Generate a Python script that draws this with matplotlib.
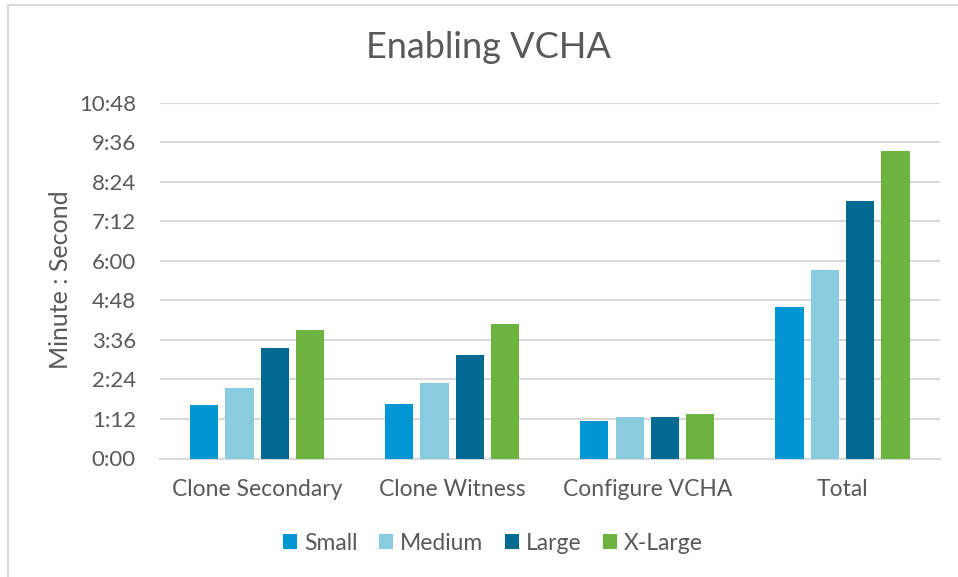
import matplotlib
matplotlib.use("Agg")
import matplotlib.pyplot as plt
from matplotlib.ticker import FuncFormatter, MultipleLocator
from matplotlib.patches import Rectangle
import numpy as np

categories = ["Clone Secondary", "Clone Witness", "Configure VCHA", "Total"]
series_names = ["Small", "Medium", "Large", "X-Large"]
# durations in seconds
small = [97, 100, 69, 276]
medium = [129, 138, 76, 344]
large = [202, 189, 76, 468]
xlarge = [233, 244, 81, 559]
values = [small, medium, large, xlarge]
colors = ["#0095D3", "#89CBDF", "#006A91", "#6DB33F"]

plt.rcParams['font.family'] = ['Lato', 'DejaVu Sans']
text_color = "#595959"

fig = plt.figure(figsize=(9.58, 5.77), dpi=100)
ax = fig.add_axes([159.5/958, (577-458.5)/577, (940-159.5)/958, (458.5-102.5)/577])

x = np.arange(len(categories))
pitch = 0.181
bw = 0.145
for i, (name, vals, c) in enumerate(zip(series_names, values, colors)):
    ax.bar(x + (i - 1.5) * pitch, vals, width=bw, color=c, label=name, zorder=3)

ax.set_xlim(-0.5, len(categories) - 0.5)
ax.set_ylim(0, 648)
ax.yaxis.set_major_locator(MultipleLocator(72))
ax.yaxis.set_major_formatter(FuncFormatter(lambda v, p: f"{int(v)//60}:{int(v)%60:02d}"))
ax.grid(axis='y', color="#D9D9D9", linewidth=1.5, zorder=0)
ax.set_axisbelow(True)
for s in ['top', 'right', 'left']:
    ax.spines[s].set_visible(False)
ax.spines['bottom'].set_color("#D9D9D9")
ax.spines['bottom'].set_linewidth(1.5)
ax.tick_params(axis='both', length=0, colors=text_color)
ax.tick_params(axis='y', pad=17, labelsize=16)
ax.tick_params(axis='x', pad=15, labelsize=16.5)
ax.set_xticks(x)
ax.set_xticklabels(categories)

fig.text(60/958, 1 - 280/577, "Minute : Second", rotation=90, ha='center', va='center',
         fontsize=18, color=text_color)

fig.text(488/958, 1 - 48/577, "Enabling VCHA", ha='center', va='center',
         fontsize=26, color=text_color)

handles, labels = ax.get_legend_handles_labels()
leg = fig.legend(handles, labels, loc='center', bbox_to_anchor=(493/958, 1 - 543/577),
                 ncol=4, frameon=False, fontsize=16.5, handlelength=0.6, handleheight=0.6,
                 handletextpad=0.3, columnspacing=0.95)
for t in leg.get_texts():
    t.set_color(text_color)

# outer chart border (top and left visible)
fig.patches.append(Rectangle((8/958, -0.1), 1.2, 1 - 5/577 + 0.1, transform=fig.transFigure,
                             fill=False, edgecolor="#D9D9D9", linewidth=1.5))

fig.savefig("out.png", dpi=100)
